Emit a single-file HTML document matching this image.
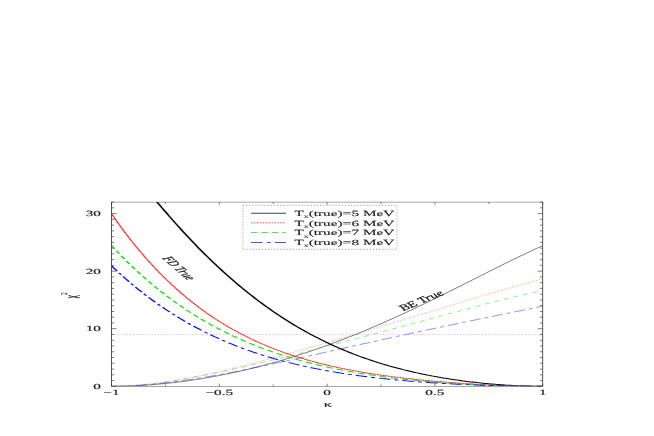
<!DOCTYPE html>
<html><head><meta charset="utf-8"><style>
html,body{margin:0;padding:0;background:#fff;}
svg{display:block;font-family:"Liberation Serif",serif;}
text{text-rendering:geometricPrecision;stroke:#222;stroke-width:0.13;fill:#222}
</style></head><body>
<svg width="654" height="436" viewBox="0 0 654 436">
<rect width="654" height="436" fill="#fff"/>
<defs><filter id="bl" x="0" y="0" width="654" height="436" filterUnits="userSpaceOnUse"><feGaussianBlur stdDeviation="0.35 0.3"/></filter><clipPath id="cp"><rect x="57.45" y="202.08" width="222.19" height="184.22"/></clipPath></defs>
<g transform="scale(1.9407,1)" filter="url(#bl)">

<line x1="57.45" y1="334.49" x2="279.64" y2="334.49" stroke="#a868e0" stroke-opacity="0.8" stroke-width="0.4" stroke-dasharray="0.6,0.99"/>
<g clip-path="url(#cp)" fill="none" stroke-linejoin="round">
<path d="M57.45,386.30 L58.48,386.30 L59.51,386.28 L60.54,386.26 L61.57,386.23 L62.60,386.20 L63.63,386.15 L64.65,386.10 L65.68,386.04 L66.71,385.97 L67.74,385.90 L68.77,385.81 L69.80,385.72 L70.83,385.62 L71.85,385.52 L72.88,385.40 L73.91,385.28 L74.94,385.15 L75.97,385.02 L77.00,384.87 L78.03,384.72 L79.06,384.56 L80.08,384.40 L81.11,384.23 L82.14,384.05 L83.17,383.86 L84.20,383.67 L85.23,383.47 L86.26,383.26 L87.28,383.04 L88.31,382.82 L89.34,382.59 L90.37,382.36 L91.40,382.12 L92.43,381.87 L93.46,381.61 L94.48,381.35 L95.51,381.08 L96.54,380.80 L97.57,380.52 L98.60,380.23 L99.63,379.93 L100.66,379.63 L101.69,379.32 L102.71,379.00 L103.74,378.68 L104.77,378.35 L105.80,378.01 L106.83,377.67 L107.86,377.32 L108.89,376.96 L109.91,376.60 L110.94,376.23 L111.97,375.85 L113.00,375.47 L114.03,375.08 L115.06,374.69 L116.09,374.29 L117.12,373.88 L118.14,373.46 L119.17,373.04 L120.20,372.61 L121.23,372.18 L122.26,371.74 L123.29,371.29 L124.32,370.84 L125.34,370.38 L126.37,369.91 L127.40,369.44 L128.43,368.96 L129.46,368.47 L130.49,367.98 L131.52,367.48 L132.54,366.98 L133.57,366.47 L134.60,365.95 L135.63,365.43 L136.66,364.90 L137.69,364.36 L138.72,363.82 L139.75,363.27 L140.77,362.71 L141.80,362.15 L142.83,361.58 L143.86,361.01 L144.89,360.43 L145.92,359.84 L146.95,359.25 L147.97,358.65 L149.00,358.04 L150.03,357.43 L151.06,356.81 L152.09,356.19 L153.12,355.56 L154.15,354.92 L155.18,354.28 L156.20,353.63 L157.23,352.97 L158.26,352.31 L159.29,351.64 L160.32,350.97 L161.35,350.29 L162.38,349.61 L163.40,348.91 L164.43,348.22 L165.46,347.51 L166.49,346.80 L167.52,346.09 L168.55,345.37 L169.58,344.64 L170.60,343.91 L171.63,343.17 L172.66,342.42 L173.69,341.67 L174.72,340.91 L175.75,340.15 L176.78,339.38 L177.81,338.61 L178.83,337.83 L179.86,337.04 L180.89,336.25 L181.92,335.46 L182.95,334.66 L183.98,333.85 L185.01,333.04 L186.03,332.22 L187.06,331.39 L188.09,330.56 L189.12,329.73 L190.15,328.89 L191.18,328.05 L192.21,327.20 L193.23,326.34 L194.26,325.48 L195.29,324.62 L196.32,323.75 L197.35,322.87 L198.38,321.99 L199.41,321.11 L200.44,320.22 L201.46,319.33 L202.49,318.43 L203.52,317.53 L204.55,316.62 L205.58,315.71 L206.61,314.79 L207.64,313.87 L208.66,312.95 L209.69,312.02 L210.72,311.09 L211.75,310.15 L212.78,309.21 L213.81,308.27 L214.84,307.32 L215.87,306.37 L216.89,305.42 L217.92,304.46 L218.95,303.50 L219.98,302.54 L221.01,301.57 L222.04,300.60 L223.07,299.63 L224.09,298.65 L225.12,297.67 L226.15,296.69 L227.18,295.71 L228.21,294.72 L229.24,293.73 L230.27,292.74 L231.29,291.75 L232.32,290.75 L233.35,289.76 L234.38,288.76 L235.41,287.76 L236.44,286.76 L237.47,285.76 L238.50,284.76 L239.52,283.75 L240.55,282.75 L241.58,281.74 L242.61,280.74 L243.64,279.73 L244.67,278.72 L245.70,277.72 L246.72,276.71 L247.75,275.71 L248.78,274.70 L249.81,273.69 L250.84,272.69 L251.87,271.69 L252.90,270.68 L253.93,269.68 L254.95,268.68 L255.98,267.69 L257.01,266.69 L258.04,265.70 L259.07,264.70 L260.10,263.71 L261.13,262.73 L262.15,261.74 L263.18,260.76 L264.21,259.78 L265.24,258.81 L266.27,257.84 L267.30,256.87 L268.33,255.91 L269.35,254.95 L270.38,254.00 L271.41,253.05 L272.44,252.10 L273.47,251.16 L274.50,250.23 L275.53,249.30 L276.56,248.38 L277.58,247.46 L278.61,246.55 L279.64,245.65" stroke="#222" stroke-width="0.4"/>
<path d="M57.45,386.30 L58.48,386.29 L59.51,386.27 L60.54,386.24 L61.57,386.19 L62.60,386.13 L63.63,386.06 L64.65,385.97 L65.68,385.87 L66.71,385.76 L67.74,385.64 L68.77,385.50 L69.80,385.36 L70.83,385.20 L71.85,385.03 L72.88,384.86 L73.91,384.67 L74.94,384.47 L75.97,384.26 L77.00,384.04 L78.03,383.81 L79.06,383.58 L80.08,383.33 L81.11,383.07 L82.14,382.81 L83.17,382.53 L84.20,382.25 L85.23,381.96 L86.26,381.66 L87.28,381.36 L88.31,381.04 L89.34,380.72 L90.37,380.39 L91.40,380.06 L92.43,379.71 L93.46,379.36 L94.48,379.00 L95.51,378.64 L96.54,378.27 L97.57,377.89 L98.60,377.51 L99.63,377.12 L100.66,376.73 L101.69,376.33 L102.71,375.92 L103.74,375.51 L104.77,375.09 L105.80,374.67 L106.83,374.24 L107.86,373.81 L108.89,373.37 L109.91,372.93 L110.94,372.48 L111.97,372.03 L113.00,371.57 L114.03,371.11 L115.06,370.65 L116.09,370.18 L117.12,369.71 L118.14,369.23 L119.17,368.75 L120.20,368.27 L121.23,367.78 L122.26,367.29 L123.29,366.79 L124.32,366.30 L125.34,365.79 L126.37,365.29 L127.40,364.78 L128.43,364.27 L129.46,363.76 L130.49,363.24 L131.52,362.72 L132.54,362.20 L133.57,361.68 L134.60,361.15 L135.63,360.62 L136.66,360.09 L137.69,359.55 L138.72,359.02 L139.75,358.48 L140.77,357.94 L141.80,357.39 L142.83,356.85 L143.86,356.30 L144.89,355.75 L145.92,355.20 L146.95,354.64 L147.97,354.09 L149.00,353.53 L150.03,352.97 L151.06,352.41 L152.09,351.85 L153.12,351.29 L154.15,350.72 L155.18,350.15 L156.20,349.59 L157.23,349.02 L158.26,348.44 L159.29,347.87 L160.32,347.30 L161.35,346.72 L162.38,346.15 L163.40,345.57 L164.43,344.99 L165.46,344.41 L166.49,343.83 L167.52,343.25 L168.55,342.66 L169.58,342.08 L170.60,341.49 L171.63,340.91 L172.66,340.32 L173.69,339.73 L174.72,339.14 L175.75,338.55 L176.78,337.96 L177.81,337.37 L178.83,336.78 L179.86,336.18 L180.89,335.59 L181.92,334.99 L182.95,334.40 L183.98,333.80 L185.01,333.20 L186.03,332.60 L187.06,332.01 L188.09,331.41 L189.12,330.81 L190.15,330.21 L191.18,329.61 L192.21,329.00 L193.23,328.40 L194.26,327.80 L195.29,327.20 L196.32,326.59 L197.35,325.99 L198.38,325.38 L199.41,324.78 L200.44,324.17 L201.46,323.57 L202.49,322.96 L203.52,322.36 L204.55,321.75 L205.58,321.14 L206.61,320.54 L207.64,319.93 L208.66,319.32 L209.69,318.71 L210.72,318.10 L211.75,317.50 L212.78,316.89 L213.81,316.28 L214.84,315.67 L215.87,315.06 L216.89,314.45 L217.92,313.85 L218.95,313.24 L219.98,312.63 L221.01,312.02 L222.04,311.41 L223.07,310.80 L224.09,310.19 L225.12,309.59 L226.15,308.98 L227.18,308.37 L228.21,307.76 L229.24,307.16 L230.27,306.55 L231.29,305.95 L232.32,305.34 L233.35,304.73 L234.38,304.13 L235.41,303.53 L236.44,302.92 L237.47,302.32 L238.50,301.72 L239.52,301.12 L240.55,300.52 L241.58,299.92 L242.61,299.32 L243.64,298.72 L244.67,298.12 L245.70,297.53 L246.72,296.93 L247.75,296.34 L248.78,295.75 L249.81,295.16 L250.84,294.57 L251.87,293.98 L252.90,293.39 L253.93,292.81 L254.95,292.22 L255.98,291.64 L257.01,291.06 L258.04,290.48 L259.07,289.91 L260.10,289.33 L261.13,288.76 L262.15,288.19 L263.18,287.62 L264.21,287.06 L265.24,286.49 L266.27,285.93 L267.30,285.37 L268.33,284.82 L269.35,284.26 L270.38,283.71 L271.41,283.17 L272.44,282.62 L273.47,282.08 L274.50,281.54 L275.53,281.01 L276.56,280.48 L277.58,279.95 L278.61,279.43 L279.64,278.91" stroke="#ff2020" stroke-width="0.34" stroke-dasharray="0.6,0.99"/>
<path d="M57.45,386.30 L58.48,386.29 L59.51,386.27 L60.54,386.24 L61.57,386.19 L62.60,386.13 L63.63,386.05 L64.65,385.97 L65.68,385.87 L66.71,385.76 L67.74,385.64 L68.77,385.50 L69.80,385.36 L70.83,385.20 L71.85,385.04 L72.88,384.86 L73.91,384.68 L74.94,384.48 L75.97,384.28 L77.00,384.06 L78.03,383.84 L79.06,383.60 L80.08,383.36 L81.11,383.11 L82.14,382.86 L83.17,382.59 L84.20,382.32 L85.23,382.04 L86.26,381.75 L87.28,381.45 L88.31,381.15 L89.34,380.84 L90.37,380.52 L91.40,380.20 L92.43,379.87 L93.46,379.54 L94.48,379.20 L95.51,378.85 L96.54,378.50 L97.57,378.14 L98.60,377.78 L99.63,377.41 L100.66,377.04 L101.69,376.66 L102.71,376.28 L103.74,375.89 L104.77,375.50 L105.80,375.10 L106.83,374.70 L107.86,374.30 L108.89,373.89 L109.91,373.48 L110.94,373.06 L111.97,372.64 L113.00,372.22 L114.03,371.80 L115.06,371.37 L116.09,370.93 L117.12,370.50 L118.14,370.06 L119.17,369.62 L120.20,369.18 L121.23,368.73 L122.26,368.28 L123.29,367.83 L124.32,367.37 L125.34,366.92 L126.37,366.46 L127.40,366.00 L128.43,365.53 L129.46,365.07 L130.49,364.60 L131.52,364.13 L132.54,363.66 L133.57,363.18 L134.60,362.71 L135.63,362.23 L136.66,361.75 L137.69,361.27 L138.72,360.79 L139.75,360.31 L140.77,359.82 L141.80,359.34 L142.83,358.85 L143.86,358.36 L144.89,357.87 L145.92,357.38 L146.95,356.88 L147.97,356.39 L149.00,355.89 L150.03,355.40 L151.06,354.90 L152.09,354.40 L153.12,353.90 L154.15,353.40 L155.18,352.89 L156.20,352.39 L157.23,351.89 L158.26,351.38 L159.29,350.88 L160.32,350.37 L161.35,349.86 L162.38,349.35 L163.40,348.84 L164.43,348.33 L165.46,347.82 L166.49,347.31 L167.52,346.79 L168.55,346.28 L169.58,345.77 L170.60,345.25 L171.63,344.73 L172.66,344.22 L173.69,343.70 L174.72,343.18 L175.75,342.66 L176.78,342.14 L177.81,341.62 L178.83,341.10 L179.86,340.58 L180.89,340.05 L181.92,339.53 L182.95,339.00 L183.98,338.48 L185.01,337.95 L186.03,337.43 L187.06,336.90 L188.09,336.37 L189.12,335.85 L190.15,335.32 L191.18,334.79 L192.21,334.26 L193.23,333.73 L194.26,333.20 L195.29,332.66 L196.32,332.13 L197.35,331.60 L198.38,331.06 L199.41,330.53 L200.44,330.00 L201.46,329.46 L202.49,328.93 L203.52,328.39 L204.55,327.85 L205.58,327.32 L206.61,326.78 L207.64,326.24 L208.66,325.70 L209.69,325.17 L210.72,324.63 L211.75,324.09 L212.78,323.55 L213.81,323.01 L214.84,322.47 L215.87,321.93 L216.89,321.39 L217.92,320.85 L218.95,320.31 L219.98,319.77 L221.01,319.23 L222.04,318.69 L223.07,318.15 L224.09,317.61 L225.12,317.07 L226.15,316.53 L227.18,315.99 L228.21,315.45 L229.24,314.91 L230.27,314.37 L231.29,313.83 L232.32,313.29 L233.35,312.76 L234.38,312.22 L235.41,311.68 L236.44,311.15 L237.47,310.61 L238.50,310.08 L239.52,309.55 L240.55,309.02 L241.58,308.48 L242.61,307.95 L243.64,307.43 L244.67,306.90 L245.70,306.37 L246.72,305.85 L247.75,305.33 L248.78,304.81 L249.81,304.29 L250.84,303.77 L251.87,303.25 L252.90,302.74 L253.93,302.23 L254.95,301.72 L255.98,301.21 L257.01,300.71 L258.04,300.21 L259.07,299.71 L260.10,299.21 L261.13,298.72 L262.15,298.23 L263.18,297.74 L264.21,297.26 L265.24,296.78 L266.27,296.30 L267.30,295.83 L268.33,295.36 L269.35,294.90 L270.38,294.44 L271.41,293.99 L272.44,293.54 L273.47,293.09 L274.50,292.65 L275.53,292.21 L276.56,291.78 L277.58,291.36 L278.61,290.94 L279.64,290.53" stroke="#10e810" stroke-width="0.34" stroke-dasharray="2.7,2.7"/>
<path d="M57.45,386.30 L58.48,386.29 L59.51,386.28 L60.54,386.25 L61.57,386.22 L62.60,386.17 L63.63,386.11 L64.65,386.04 L65.68,385.97 L66.71,385.88 L67.74,385.79 L68.77,385.68 L69.80,385.57 L70.83,385.45 L71.85,385.32 L72.88,385.18 L73.91,385.03 L74.94,384.88 L75.97,384.71 L77.00,384.54 L78.03,384.36 L79.06,384.18 L80.08,383.98 L81.11,383.78 L82.14,383.57 L83.17,383.36 L84.20,383.14 L85.23,382.91 L86.26,382.67 L87.28,382.43 L88.31,382.18 L89.34,381.93 L90.37,381.66 L91.40,381.40 L92.43,381.13 L93.46,380.85 L94.48,380.56 L95.51,380.27 L96.54,379.98 L97.57,379.68 L98.60,379.38 L99.63,379.07 L100.66,378.75 L101.69,378.43 L102.71,378.11 L103.74,377.78 L104.77,377.45 L105.80,377.11 L106.83,376.77 L107.86,376.42 L108.89,376.07 L109.91,375.72 L110.94,375.36 L111.97,375.00 L113.00,374.64 L114.03,374.27 L115.06,373.90 L116.09,373.53 L117.12,373.15 L118.14,372.77 L119.17,372.38 L120.20,372.00 L121.23,371.61 L122.26,371.22 L123.29,370.82 L124.32,370.42 L125.34,370.02 L126.37,369.62 L127.40,369.22 L128.43,368.81 L129.46,368.40 L130.49,367.99 L131.52,367.57 L132.54,367.16 L133.57,366.74 L134.60,366.32 L135.63,365.90 L136.66,365.48 L137.69,365.06 L138.72,364.63 L139.75,364.20 L140.77,363.78 L141.80,363.35 L142.83,362.91 L143.86,362.48 L144.89,362.05 L145.92,361.61 L146.95,361.18 L147.97,360.74 L149.00,360.30 L150.03,359.87 L151.06,359.43 L152.09,358.99 L153.12,358.55 L154.15,358.10 L155.18,357.66 L156.20,357.22 L157.23,356.78 L158.26,356.33 L159.29,355.89 L160.32,355.45 L161.35,355.00 L162.38,354.56 L163.40,354.11 L164.43,353.66 L165.46,353.22 L166.49,352.77 L167.52,352.33 L168.55,351.88 L169.58,351.43 L170.60,350.99 L171.63,350.54 L172.66,350.10 L173.69,349.65 L174.72,349.20 L175.75,348.76 L176.78,348.31 L177.81,347.87 L178.83,347.42 L179.86,346.98 L180.89,346.53 L181.92,346.09 L182.95,345.64 L183.98,345.20 L185.01,344.76 L186.03,344.31 L187.06,343.87 L188.09,343.43 L189.12,342.99 L190.15,342.55 L191.18,342.11 L192.21,341.67 L193.23,341.23 L194.26,340.79 L195.29,340.35 L196.32,339.91 L197.35,339.47 L198.38,339.04 L199.41,338.60 L200.44,338.16 L201.46,337.73 L202.49,337.30 L203.52,336.86 L204.55,336.43 L205.58,336.00 L206.61,335.56 L207.64,335.13 L208.66,334.70 L209.69,334.27 L210.72,333.84 L211.75,333.41 L212.78,332.99 L213.81,332.56 L214.84,332.13 L215.87,331.71 L216.89,331.28 L217.92,330.86 L218.95,330.43 L219.98,330.01 L221.01,329.58 L222.04,329.16 L223.07,328.74 L224.09,328.32 L225.12,327.90 L226.15,327.48 L227.18,327.06 L228.21,326.64 L229.24,326.22 L230.27,325.81 L231.29,325.39 L232.32,324.97 L233.35,324.56 L234.38,324.14 L235.41,323.73 L236.44,323.32 L237.47,322.90 L238.50,322.49 L239.52,322.08 L240.55,321.66 L241.58,321.25 L242.61,320.84 L243.64,320.43 L244.67,320.02 L245.70,319.61 L246.72,319.20 L247.75,318.79 L248.78,318.38 L249.81,317.98 L250.84,317.57 L251.87,317.16 L252.90,316.75 L253.93,316.34 L254.95,315.94 L255.98,315.53 L257.01,315.12 L258.04,314.72 L259.07,314.31 L260.10,313.90 L261.13,313.50 L262.15,313.09 L263.18,312.69 L264.21,312.28 L265.24,311.87 L266.27,311.47 L267.30,311.06 L268.33,310.66 L269.35,310.25 L270.38,309.84 L271.41,309.44 L272.44,309.03 L273.47,308.63 L274.50,308.22 L275.53,307.81 L276.56,307.40 L277.58,307.00 L278.61,306.59 L279.64,306.18" stroke="#2020ff" stroke-width="0.34" stroke-dasharray="6,2.1,2.1,2.1"/>
<path d="M57.45,144.28 L58.48,146.94 L59.51,149.59 L60.54,152.22 L61.57,154.85 L62.60,157.47 L63.63,160.07 L64.65,162.66 L65.68,165.25 L66.71,167.82 L67.74,170.37 L68.77,172.92 L69.80,175.45 L70.83,177.97 L71.85,180.48 L72.88,182.97 L73.91,185.45 L74.94,187.92 L75.97,190.37 L77.00,192.81 L78.03,195.23 L79.06,197.64 L80.08,200.04 L81.11,202.42 L82.14,204.78 L83.17,207.13 L84.20,209.46 L85.23,211.78 L86.26,214.08 L87.28,216.37 L88.31,218.64 L89.34,220.89 L90.37,223.13 L91.40,225.35 L92.43,227.56 L93.46,229.74 L94.48,231.92 L95.51,234.07 L96.54,236.21 L97.57,238.33 L98.60,240.43 L99.63,242.52 L100.66,244.59 L101.69,246.64 L102.71,248.67 L103.74,250.69 L104.77,252.69 L105.80,254.67 L106.83,256.63 L107.86,258.58 L108.89,260.51 L109.91,262.42 L110.94,264.31 L111.97,266.18 L113.00,268.04 L114.03,269.88 L115.06,271.70 L116.09,273.50 L117.12,275.29 L118.14,277.06 L119.17,278.81 L120.20,280.54 L121.23,282.25 L122.26,283.95 L123.29,285.63 L124.32,287.29 L125.34,288.93 L126.37,290.55 L127.40,292.16 L128.43,293.75 L129.46,295.32 L130.49,296.88 L131.52,298.41 L132.54,299.93 L133.57,301.43 L134.60,302.92 L135.63,304.38 L136.66,305.83 L137.69,307.26 L138.72,308.68 L139.75,310.08 L140.77,311.46 L141.80,312.82 L142.83,314.17 L143.86,315.50 L144.89,316.81 L145.92,318.11 L146.95,319.39 L147.97,320.65 L149.00,321.90 L150.03,323.13 L151.06,324.35 L152.09,325.55 L153.12,326.73 L154.15,327.90 L155.18,329.05 L156.20,330.18 L157.23,331.30 L158.26,332.41 L159.29,333.50 L160.32,334.57 L161.35,335.63 L162.38,336.67 L163.40,337.70 L164.43,338.72 L165.46,339.72 L166.49,340.70 L167.52,341.67 L168.55,342.63 L169.58,343.57 L170.60,344.50 L171.63,345.41 L172.66,346.31 L173.69,347.20 L174.72,348.07 L175.75,348.93 L176.78,349.77 L177.81,350.61 L178.83,351.43 L179.86,352.23 L180.89,353.03 L181.92,353.81 L182.95,354.58 L183.98,355.33 L185.01,356.08 L186.03,356.81 L187.06,357.53 L188.09,358.24 L189.12,358.93 L190.15,359.62 L191.18,360.29 L192.21,360.95 L193.23,361.60 L194.26,362.24 L195.29,362.87 L196.32,363.49 L197.35,364.10 L198.38,364.69 L199.41,365.28 L200.44,365.85 L201.46,366.42 L202.49,366.97 L203.52,367.52 L204.55,368.05 L205.58,368.58 L206.61,369.09 L207.64,369.60 L208.66,370.10 L209.69,370.58 L210.72,371.06 L211.75,371.53 L212.78,371.99 L213.81,372.44 L214.84,372.89 L215.87,373.32 L216.89,373.75 L217.92,374.16 L218.95,374.57 L219.98,374.97 L221.01,375.37 L222.04,375.75 L223.07,376.13 L224.09,376.50 L225.12,376.86 L226.15,377.21 L227.18,377.56 L228.21,377.90 L229.24,378.23 L230.27,378.55 L231.29,378.87 L232.32,379.18 L233.35,379.48 L234.38,379.78 L235.41,380.07 L236.44,380.35 L237.47,380.62 L238.50,380.89 L239.52,381.15 L240.55,381.41 L241.58,381.65 L242.61,381.90 L243.64,382.13 L244.67,382.36 L245.70,382.58 L246.72,382.80 L247.75,383.01 L248.78,383.21 L249.81,383.41 L250.84,383.60 L251.87,383.78 L252.90,383.96 L253.93,384.13 L254.95,384.29 L255.98,384.45 L257.01,384.60 L258.04,384.75 L259.07,384.89 L260.10,385.02 L261.13,385.15 L262.15,385.27 L263.18,385.39 L264.21,385.49 L265.24,385.60 L266.27,385.69 L267.30,385.78 L268.33,385.86 L269.35,385.93 L270.38,386.00 L271.41,386.06 L272.44,386.12 L273.47,386.17 L274.50,386.21 L275.53,386.24 L276.56,386.27 L277.58,386.28 L278.61,386.30 L279.64,386.30" stroke="#111" stroke-width="1.05"/>
<path d="M57.45,213.76 L58.48,216.64 L59.51,219.48 L60.54,222.28 L61.57,225.04 L62.60,227.77 L63.63,230.45 L64.65,233.10 L65.68,235.70 L66.71,238.27 L67.74,240.81 L68.77,243.31 L69.80,245.77 L70.83,248.19 L71.85,250.58 L72.88,252.94 L73.91,255.26 L74.94,257.54 L75.97,259.80 L77.00,262.02 L78.03,264.20 L79.06,266.35 L80.08,268.47 L81.11,270.56 L82.14,272.62 L83.17,274.65 L84.20,276.64 L85.23,278.61 L86.26,280.54 L87.28,282.45 L88.31,284.32 L89.34,286.17 L90.37,287.99 L91.40,289.77 L92.43,291.54 L93.46,293.27 L94.48,294.98 L95.51,296.65 L96.54,298.31 L97.57,299.93 L98.60,301.53 L99.63,303.11 L100.66,304.66 L101.69,306.18 L102.71,307.68 L103.74,309.15 L104.77,310.60 L105.80,312.03 L106.83,313.44 L107.86,314.82 L108.89,316.17 L109.91,317.51 L110.94,318.82 L111.97,320.11 L113.00,321.38 L114.03,322.63 L115.06,323.86 L116.09,325.06 L117.12,326.25 L118.14,327.41 L119.17,328.56 L120.20,329.68 L121.23,330.79 L122.26,331.88 L123.29,332.95 L124.32,334.00 L125.34,335.03 L126.37,336.04 L127.40,337.04 L128.43,338.02 L129.46,338.98 L130.49,339.92 L131.52,340.85 L132.54,341.76 L133.57,342.66 L134.60,343.53 L135.63,344.40 L136.66,345.25 L137.69,346.08 L138.72,346.90 L139.75,347.70 L140.77,348.49 L141.80,349.26 L142.83,350.02 L143.86,350.77 L144.89,351.50 L145.92,352.22 L146.95,352.93 L147.97,353.62 L149.00,354.30 L150.03,354.97 L151.06,355.63 L152.09,356.27 L153.12,356.90 L154.15,357.53 L155.18,358.13 L156.20,358.73 L157.23,359.32 L158.26,359.89 L159.29,360.46 L160.32,361.01 L161.35,361.56 L162.38,362.09 L163.40,362.62 L164.43,363.13 L165.46,363.64 L166.49,364.13 L167.52,364.62 L168.55,365.10 L169.58,365.57 L170.60,366.03 L171.63,366.48 L172.66,366.92 L173.69,367.35 L174.72,367.78 L175.75,368.20 L176.78,368.61 L177.81,369.01 L178.83,369.41 L179.86,369.80 L180.89,370.18 L181.92,370.55 L182.95,370.92 L183.98,371.28 L185.01,371.63 L186.03,371.98 L187.06,372.32 L188.09,372.66 L189.12,372.99 L190.15,373.31 L191.18,373.63 L192.21,373.94 L193.23,374.24 L194.26,374.54 L195.29,374.84 L196.32,375.13 L197.35,375.41 L198.38,375.69 L199.41,375.96 L200.44,376.23 L201.46,376.50 L202.49,376.75 L203.52,377.01 L204.55,377.26 L205.58,377.51 L206.61,377.75 L207.64,377.98 L208.66,378.22 L209.69,378.45 L210.72,378.67 L211.75,378.89 L212.78,379.11 L213.81,379.32 L214.84,379.53 L215.87,379.74 L216.89,379.94 L217.92,380.14 L218.95,380.33 L219.98,380.52 L221.01,380.71 L222.04,380.89 L223.07,381.08 L224.09,381.25 L225.12,381.43 L226.15,381.60 L227.18,381.77 L228.21,381.93 L229.24,382.10 L230.27,382.25 L231.29,382.41 L232.32,382.56 L233.35,382.71 L234.38,382.86 L235.41,383.00 L236.44,383.15 L237.47,383.28 L238.50,383.42 L239.52,383.55 L240.55,383.68 L241.58,383.81 L242.61,383.93 L243.64,384.05 L244.67,384.17 L245.70,384.29 L246.72,384.40 L247.75,384.51 L248.78,384.61 L249.81,384.72 L250.84,384.82 L251.87,384.91 L252.90,385.01 L253.93,385.10 L254.95,385.19 L255.98,385.28 L257.01,385.36 L258.04,385.44 L259.07,385.51 L260.10,385.59 L261.13,385.66 L262.15,385.72 L263.18,385.79 L264.21,385.85 L265.24,385.90 L266.27,385.95 L267.30,386.00 L268.33,386.05 L269.35,386.09 L270.38,386.13 L271.41,386.17 L272.44,386.20 L273.47,386.22 L274.50,386.25 L275.53,386.27 L276.56,386.28 L277.58,386.29 L278.61,386.30 L279.64,386.30" stroke="#ff1010" stroke-opacity="0.6" stroke-width="0.6825000000000001"/>
<path d="M57.45,213.76 L58.48,216.64 L59.51,219.48 L60.54,222.28 L61.57,225.04 L62.60,227.77 L63.63,230.45 L64.65,233.10 L65.68,235.70 L66.71,238.27 L67.74,240.81 L68.77,243.31 L69.80,245.77 L70.83,248.19 L71.85,250.58 L72.88,252.94 L73.91,255.26 L74.94,257.54 L75.97,259.80 L77.00,262.02 L78.03,264.20 L79.06,266.35 L80.08,268.47 L81.11,270.56 L82.14,272.62 L83.17,274.65 L84.20,276.64 L85.23,278.61 L86.26,280.54 L87.28,282.45 L88.31,284.32 L89.34,286.17 L90.37,287.99 L91.40,289.77 L92.43,291.54 L93.46,293.27 L94.48,294.98 L95.51,296.65 L96.54,298.31 L97.57,299.93 L98.60,301.53 L99.63,303.11 L100.66,304.66 L101.69,306.18 L102.71,307.68 L103.74,309.15 L104.77,310.60 L105.80,312.03 L106.83,313.44 L107.86,314.82 L108.89,316.17 L109.91,317.51 L110.94,318.82 L111.97,320.11 L113.00,321.38 L114.03,322.63 L115.06,323.86 L116.09,325.06 L117.12,326.25 L118.14,327.41 L119.17,328.56 L120.20,329.68 L121.23,330.79 L122.26,331.88 L123.29,332.95 L124.32,334.00 L125.34,335.03 L126.37,336.04 L127.40,337.04 L128.43,338.02 L129.46,338.98 L130.49,339.92 L131.52,340.85 L132.54,341.76 L133.57,342.66 L134.60,343.53 L135.63,344.40 L136.66,345.25 L137.69,346.08 L138.72,346.90 L139.75,347.70 L140.77,348.49 L141.80,349.26 L142.83,350.02 L143.86,350.77 L144.89,351.50 L145.92,352.22 L146.95,352.93 L147.97,353.62 L149.00,354.30 L150.03,354.97 L151.06,355.63 L152.09,356.27 L153.12,356.90 L154.15,357.53 L155.18,358.13 L156.20,358.73 L157.23,359.32 L158.26,359.89 L159.29,360.46 L160.32,361.01 L161.35,361.56 L162.38,362.09 L163.40,362.62 L164.43,363.13 L165.46,363.64 L166.49,364.13 L167.52,364.62 L168.55,365.10 L169.58,365.57 L170.60,366.03 L171.63,366.48 L172.66,366.92 L173.69,367.35 L174.72,367.78 L175.75,368.20 L176.78,368.61 L177.81,369.01 L178.83,369.41 L179.86,369.80 L180.89,370.18 L181.92,370.55 L182.95,370.92 L183.98,371.28 L185.01,371.63 L186.03,371.98 L187.06,372.32 L188.09,372.66 L189.12,372.99 L190.15,373.31 L191.18,373.63 L192.21,373.94 L193.23,374.24 L194.26,374.54 L195.29,374.84 L196.32,375.13 L197.35,375.41 L198.38,375.69 L199.41,375.96 L200.44,376.23 L201.46,376.50 L202.49,376.75 L203.52,377.01 L204.55,377.26 L205.58,377.51 L206.61,377.75 L207.64,377.98 L208.66,378.22 L209.69,378.45 L210.72,378.67 L211.75,378.89 L212.78,379.11 L213.81,379.32 L214.84,379.53 L215.87,379.74 L216.89,379.94 L217.92,380.14 L218.95,380.33 L219.98,380.52 L221.01,380.71 L222.04,380.89 L223.07,381.08 L224.09,381.25 L225.12,381.43 L226.15,381.60 L227.18,381.77 L228.21,381.93 L229.24,382.10 L230.27,382.25 L231.29,382.41 L232.32,382.56 L233.35,382.71 L234.38,382.86 L235.41,383.00 L236.44,383.15 L237.47,383.28 L238.50,383.42 L239.52,383.55 L240.55,383.68 L241.58,383.81 L242.61,383.93 L243.64,384.05 L244.67,384.17 L245.70,384.29 L246.72,384.40 L247.75,384.51 L248.78,384.61 L249.81,384.72 L250.84,384.82 L251.87,384.91 L252.90,385.01 L253.93,385.10 L254.95,385.19 L255.98,385.28 L257.01,385.36 L258.04,385.44 L259.07,385.51 L260.10,385.59 L261.13,385.66 L262.15,385.72 L263.18,385.79 L264.21,385.85 L265.24,385.90 L266.27,385.95 L267.30,386.00 L268.33,386.05 L269.35,386.09 L270.38,386.13 L271.41,386.17 L272.44,386.20 L273.47,386.22 L274.50,386.25 L275.53,386.27 L276.56,386.28 L277.58,386.29 L278.61,386.30 L279.64,386.30" stroke="#ff1010" stroke-width="0.8190000000000001" stroke-dasharray="0.8,0.7"/>
<path d="M57.45,245.47 L58.48,247.62 L59.51,249.75 L60.54,251.85 L61.57,253.92 L62.60,255.97 L63.63,257.99 L64.65,259.99 L65.68,261.96 L66.71,263.90 L67.74,265.82 L68.77,267.72 L69.80,269.59 L70.83,271.44 L71.85,273.26 L72.88,275.06 L73.91,276.84 L74.94,278.59 L75.97,280.32 L77.00,282.03 L78.03,283.72 L79.06,285.38 L80.08,287.02 L81.11,288.64 L82.14,290.24 L83.17,291.81 L84.20,293.37 L85.23,294.90 L86.26,296.41 L87.28,297.90 L88.31,299.38 L89.34,300.83 L90.37,302.26 L91.40,303.67 L92.43,305.06 L93.46,306.44 L94.48,307.79 L95.51,309.13 L96.54,310.45 L97.57,311.74 L98.60,313.02 L99.63,314.29 L100.66,315.53 L101.69,316.76 L102.71,317.97 L103.74,319.16 L104.77,320.33 L105.80,321.49 L106.83,322.63 L107.86,323.76 L108.89,324.87 L109.91,325.96 L110.94,327.03 L111.97,328.10 L113.00,329.14 L114.03,330.17 L115.06,331.18 L116.09,332.18 L117.12,333.17 L118.14,334.14 L119.17,335.09 L120.20,336.04 L121.23,336.96 L122.26,337.87 L123.29,338.77 L124.32,339.66 L125.34,340.53 L126.37,341.39 L127.40,342.24 L128.43,343.07 L129.46,343.89 L130.49,344.70 L131.52,345.49 L132.54,346.27 L133.57,347.04 L134.60,347.80 L135.63,348.55 L136.66,349.28 L137.69,350.00 L138.72,350.72 L139.75,351.42 L140.77,352.11 L141.80,352.78 L142.83,353.45 L143.86,354.11 L144.89,354.75 L145.92,355.39 L146.95,356.01 L147.97,356.63 L149.00,357.24 L150.03,357.83 L151.06,358.42 L152.09,358.99 L153.12,359.56 L154.15,360.12 L155.18,360.67 L156.20,361.20 L157.23,361.73 L158.26,362.26 L159.29,362.77 L160.32,363.27 L161.35,363.77 L162.38,364.26 L163.40,364.74 L164.43,365.21 L165.46,365.67 L166.49,366.13 L167.52,366.57 L168.55,367.01 L169.58,367.45 L170.60,367.87 L171.63,368.29 L172.66,368.70 L173.69,369.10 L174.72,369.50 L175.75,369.89 L176.78,370.27 L177.81,370.65 L178.83,371.02 L179.86,371.38 L180.89,371.74 L181.92,372.09 L182.95,372.44 L183.98,372.77 L185.01,373.11 L186.03,373.43 L187.06,373.75 L188.09,374.07 L189.12,374.38 L190.15,374.68 L191.18,374.98 L192.21,375.27 L193.23,375.56 L194.26,375.84 L195.29,376.12 L196.32,376.39 L197.35,376.66 L198.38,376.92 L199.41,377.18 L200.44,377.44 L201.46,377.68 L202.49,377.93 L203.52,378.17 L204.55,378.40 L205.58,378.63 L206.61,378.86 L207.64,379.08 L208.66,379.30 L209.69,379.51 L210.72,379.72 L211.75,379.92 L212.78,380.12 L213.81,380.32 L214.84,380.51 L215.87,380.70 L216.89,380.89 L217.92,381.07 L218.95,381.25 L219.98,381.42 L221.01,381.59 L222.04,381.76 L223.07,381.93 L224.09,382.09 L225.12,382.24 L226.15,382.40 L227.18,382.55 L228.21,382.69 L229.24,382.84 L230.27,382.98 L231.29,383.12 L232.32,383.25 L233.35,383.38 L234.38,383.51 L235.41,383.64 L236.44,383.76 L237.47,383.88 L238.50,383.99 L239.52,384.11 L240.55,384.22 L241.58,384.32 L242.61,384.43 L243.64,384.53 L244.67,384.63 L245.70,384.72 L246.72,384.81 L247.75,384.90 L248.78,384.99 L249.81,385.08 L250.84,385.16 L251.87,385.24 L252.90,385.31 L253.93,385.39 L254.95,385.46 L255.98,385.52 L257.01,385.59 L258.04,385.65 L259.07,385.71 L260.10,385.77 L261.13,385.82 L262.15,385.87 L263.18,385.92 L264.21,385.96 L265.24,386.01 L266.27,386.05 L267.30,386.08 L268.33,386.12 L269.35,386.15 L270.38,386.18 L271.41,386.20 L272.44,386.23 L273.47,386.25 L274.50,386.26 L275.53,386.28 L276.56,386.29 L277.58,386.29 L278.61,386.30 L279.64,386.30" stroke="#08e808" stroke-width="0.9660000000000001" stroke-dasharray="3.5,2.3"/>
<path d="M57.45,265.83 L58.48,267.73 L59.51,269.60 L60.54,271.45 L61.57,273.28 L62.60,275.08 L63.63,276.86 L64.65,278.62 L65.68,280.35 L66.71,282.06 L67.74,283.75 L68.77,285.41 L69.80,287.06 L70.83,288.68 L71.85,290.28 L72.88,291.85 L73.91,293.41 L74.94,294.95 L75.97,296.46 L77.00,297.96 L78.03,299.43 L79.06,300.88 L80.08,302.32 L81.11,303.73 L82.14,305.12 L83.17,306.50 L84.20,307.86 L85.23,309.19 L86.26,310.51 L87.28,311.81 L88.31,313.09 L89.34,314.35 L90.37,315.60 L91.40,316.83 L92.43,318.03 L93.46,319.23 L94.48,320.40 L95.51,321.56 L96.54,322.70 L97.57,323.83 L98.60,324.93 L99.63,326.03 L100.66,327.10 L101.69,328.16 L102.71,329.21 L103.74,330.23 L104.77,331.25 L105.80,332.25 L106.83,333.23 L107.86,334.20 L108.89,335.15 L109.91,336.09 L110.94,337.01 L111.97,337.92 L113.00,338.82 L114.03,339.70 L115.06,340.57 L116.09,341.43 L117.12,342.27 L118.14,343.10 L119.17,343.92 L120.20,344.72 L121.23,345.51 L122.26,346.29 L123.29,347.06 L124.32,347.81 L125.34,348.56 L126.37,349.29 L127.40,350.00 L128.43,350.71 L129.46,351.41 L130.49,352.09 L131.52,352.77 L132.54,353.43 L133.57,354.08 L134.60,354.72 L135.63,355.35 L136.66,355.97 L137.69,356.58 L138.72,357.18 L139.75,357.77 L140.77,358.35 L141.80,358.92 L142.83,359.48 L143.86,360.03 L144.89,360.57 L145.92,361.11 L146.95,361.63 L147.97,362.15 L149.00,362.65 L150.03,363.15 L151.06,363.64 L152.09,364.12 L153.12,364.59 L154.15,365.06 L155.18,365.51 L156.20,365.96 L157.23,366.40 L158.26,366.83 L159.29,367.26 L160.32,367.68 L161.35,368.09 L162.38,368.49 L163.40,368.89 L164.43,369.27 L165.46,369.66 L166.49,370.03 L167.52,370.40 L168.55,370.76 L169.58,371.12 L170.60,371.47 L171.63,371.81 L172.66,372.15 L173.69,372.48 L174.72,372.80 L175.75,373.12 L176.78,373.43 L177.81,373.74 L178.83,374.04 L179.86,374.34 L180.89,374.63 L181.92,374.91 L182.95,375.20 L183.98,375.47 L185.01,375.74 L186.03,376.00 L187.06,376.26 L188.09,376.52 L189.12,376.77 L190.15,377.02 L191.18,377.26 L192.21,377.49 L193.23,377.73 L194.26,377.95 L195.29,378.18 L196.32,378.40 L197.35,378.61 L198.38,378.82 L199.41,379.03 L200.44,379.23 L201.46,379.43 L202.49,379.63 L203.52,379.82 L204.55,380.01 L205.58,380.19 L206.61,380.37 L207.64,380.55 L208.66,380.72 L209.69,380.89 L210.72,381.06 L211.75,381.22 L212.78,381.38 L213.81,381.54 L214.84,381.69 L215.87,381.84 L216.89,381.99 L217.92,382.14 L218.95,382.28 L219.98,382.42 L221.01,382.55 L222.04,382.69 L223.07,382.82 L224.09,382.94 L225.12,383.07 L226.15,383.19 L227.18,383.31 L228.21,383.43 L229.24,383.54 L230.27,383.65 L231.29,383.76 L232.32,383.87 L233.35,383.97 L234.38,384.07 L235.41,384.17 L236.44,384.27 L237.47,384.36 L238.50,384.46 L239.52,384.55 L240.55,384.63 L241.58,384.72 L242.61,384.80 L243.64,384.88 L244.67,384.96 L245.70,385.04 L246.72,385.11 L247.75,385.18 L248.78,385.25 L249.81,385.32 L250.84,385.38 L251.87,385.45 L252.90,385.51 L253.93,385.56 L254.95,385.62 L255.98,385.68 L257.01,385.73 L258.04,385.78 L259.07,385.82 L260.10,385.87 L261.13,385.91 L262.15,385.95 L263.18,385.99 L264.21,386.03 L265.24,386.06 L266.27,386.10 L267.30,386.13 L268.33,386.15 L269.35,386.18 L270.38,386.20 L271.41,386.22 L272.44,386.24 L273.47,386.26 L274.50,386.27 L275.53,386.28 L276.56,386.29 L277.58,386.29 L278.61,386.30 L279.64,386.30" stroke="#1010f8" stroke-width="0.9660000000000001" stroke-dasharray="6,2.1,2.1,2.1"/>
</g>
<rect x="57.45" y="202.08" width="222.19" height="184.22" fill="none" stroke="#3c3c3c" stroke-width="0.45"/>
<path d="M57.45,386.30h2.6 M279.64,386.30h-2.6 M57.45,380.54h1.4 M279.64,380.54h-1.4 M57.45,374.79h1.4 M279.64,374.79h-1.4 M57.45,369.03h1.4 M279.64,369.03h-1.4 M57.45,363.27h1.4 M279.64,363.27h-1.4 M57.45,357.51h1.4 M279.64,357.51h-1.4 M57.45,351.76h1.4 M279.64,351.76h-1.4 M57.45,346.00h1.4 M279.64,346.00h-1.4 M57.45,340.24h1.4 M279.64,340.24h-1.4 M57.45,334.49h1.4 M279.64,334.49h-1.4 M57.45,328.73h2.6 M279.64,328.73h-2.6 M57.45,322.97h1.4 M279.64,322.97h-1.4 M57.45,317.22h1.4 M279.64,317.22h-1.4 M57.45,311.46h1.4 M279.64,311.46h-1.4 M57.45,305.70h1.4 M279.64,305.70h-1.4 M57.45,299.95h1.4 M279.64,299.95h-1.4 M57.45,294.19h1.4 M279.64,294.19h-1.4 M57.45,288.43h1.4 M279.64,288.43h-1.4 M57.45,282.67h1.4 M279.64,282.67h-1.4 M57.45,276.92h1.4 M279.64,276.92h-1.4 M57.45,271.16h2.6 M279.64,271.16h-2.6 M57.45,265.40h1.4 M279.64,265.40h-1.4 M57.45,259.65h1.4 M279.64,259.65h-1.4 M57.45,253.89h1.4 M279.64,253.89h-1.4 M57.45,248.13h1.4 M279.64,248.13h-1.4 M57.45,242.38h1.4 M279.64,242.38h-1.4 M57.45,236.62h1.4 M279.64,236.62h-1.4 M57.45,230.86h1.4 M279.64,230.86h-1.4 M57.45,225.10h1.4 M279.64,225.10h-1.4 M57.45,219.35h1.4 M279.64,219.35h-1.4 M57.45,213.59h2.6 M279.64,213.59h-2.6 M57.45,207.83h1.4 M279.64,207.83h-1.4 M57.45,202.08h1.4 M279.64,202.08h-1.4 M57.45,386.3v-2.6 M57.45,202.08v2.6 M85.23,386.3v-1.8 M85.23,202.08v1.8 M113.00,386.3v-2.6 M113.00,202.08v2.6 M140.77,386.3v-1.8 M140.77,202.08v1.8 M168.55,386.3v-2.6 M168.55,202.08v2.6 M196.32,386.3v-1.8 M196.32,202.08v1.8 M224.09,386.3v-2.6 M224.09,202.08v2.6 M251.87,386.3v-1.8 M251.87,202.08v1.8 M279.64,386.3v-2.6 M279.64,202.08v2.6" stroke="#3c3c3c" stroke-width="0.45" fill="none"/>
<text x="57.45" y="395.3" text-anchor="middle" font-size="7.85">−1</text>
<text x="113.00" y="395.3" text-anchor="middle" font-size="7.85">−0.5</text>
<text x="168.55" y="395.3" text-anchor="middle" font-size="7.85">0</text>
<text x="224.09" y="395.3" text-anchor="middle" font-size="7.85">0.5</text>
<text x="279.64" y="395.3" text-anchor="middle" font-size="7.85">1</text>
<text x="52.04" y="388.95" text-anchor="end" font-size="7.85">0</text>
<text x="52.04" y="331.38" text-anchor="end" font-size="7.85">10</text>
<text x="52.04" y="273.81" text-anchor="end" font-size="7.85">20</text>
<text x="52.04" y="216.24" text-anchor="end" font-size="7.85">30</text>
<text x="168.91" y="407" text-anchor="middle" font-size="8.45">κ</text>
<g transform="translate(39.32,298.3) rotate(-90)"><text transform="scale(0.85,1)" font-size="8.45">χ</text><text x="3.6" y="-4.6" font-size="4.55">2</text></g>
<rect x="125.21" y="205.3" width="79.35" height="44" fill="#fff" stroke="#666" stroke-width="0.45" stroke-dasharray="0.6,0.99"/>
<line x1="129.33" x2="147.37" y1="213.2" y2="213.2" stroke="#444" stroke-width="0.85"/>
<line x1="129.33" x2="147.37" y1="222.9" y2="222.9" stroke="#ff1010" stroke-width="0.85" stroke-dasharray="0.8,0.7"/>
<line x1="129.33" x2="147.37" y1="232.6" y2="232.6" stroke="#08e808" stroke-width="0.85" stroke-dasharray="3.3,2.1"/>
<line x1="129.33" x2="147.37" y1="242.3" y2="242.3" stroke="#1010f8" stroke-width="0.85" stroke-dasharray="6,2.1,2.1,2.1"/>
<text x="151.70" y="215.60" font-size="7.85">T<tspan font-size="5.2" dy="2.5" style="stroke-width:0.05">x</tspan><tspan dy="-2.5">(true)</tspan><tspan font-size="8.2" dy="0.15" style="stroke-width:0.1">=</tspan><tspan dy="-0.15">5 MeV</tspan></text>
<text x="151.70" y="225.50" font-size="7.85">T<tspan font-size="5.2" dy="2.5" style="stroke-width:0.05">x</tspan><tspan dy="-2.5">(true)</tspan><tspan font-size="8.2" dy="0.15" style="stroke-width:0.1">=</tspan><tspan dy="-0.15">6 MeV</tspan></text>
<text x="151.70" y="235.20" font-size="7.85">T<tspan font-size="5.2" dy="2.5" style="stroke-width:0.05">x</tspan><tspan dy="-2.5">(true)</tspan><tspan font-size="8.2" dy="0.15" style="stroke-width:0.1">=</tspan><tspan dy="-0.15">7 MeV</tspan></text>
<text x="151.70" y="244.90" font-size="7.85">T<tspan font-size="5.2" dy="2.5" style="stroke-width:0.05">x</tspan><tspan dy="-2.5">(true)</tspan><tspan font-size="8.2" dy="0.15" style="stroke-width:0.1">=</tspan><tspan dy="-0.15">8 MeV</tspan></text>
<text transform="translate(83.48,258.3) rotate(59)" font-size="7.6" font-style="italic" style="stroke-width:0.2">FD True</text>
<text transform="translate(207.91,311) rotate(-38)" font-size="8.25" font-style="italic" style="stroke-width:0.2">BE True</text>
</g></svg></body></html>
